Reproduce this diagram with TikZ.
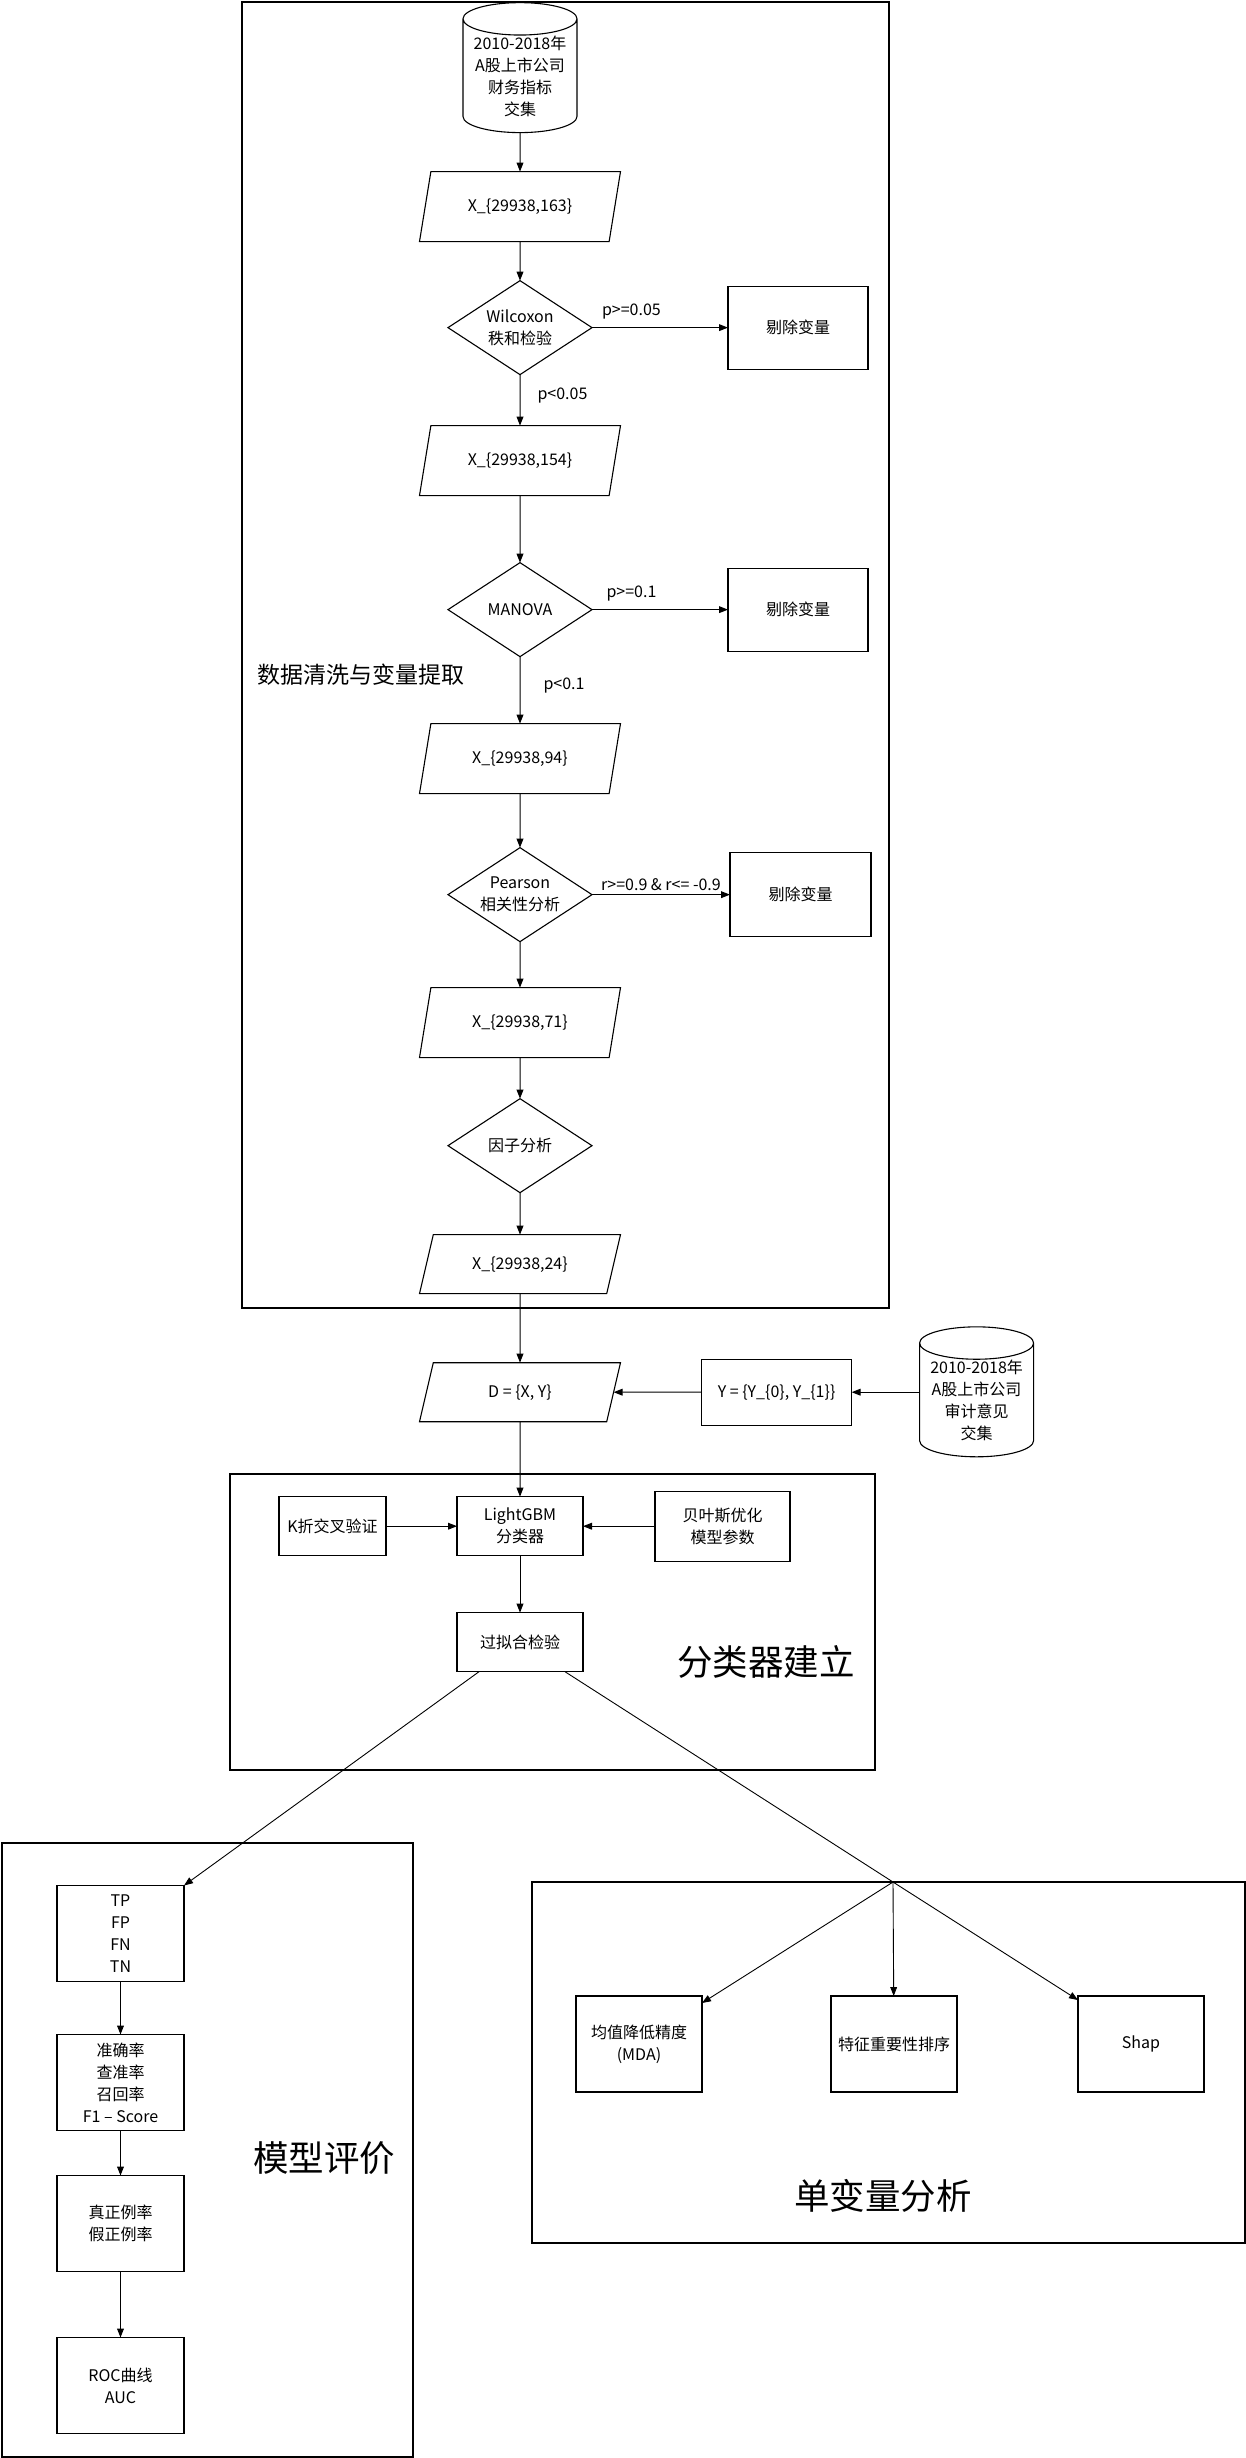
\documentclass[tikz,border=0pt]{standalone}
\usepackage{fontspec}
\setmainfont{Noto Sans CJK SC}
\usetikzlibrary{shapes.geometric, arrows.meta, positioning, calc}

\begin{document}
\begin{tikzpicture}[
    x=0.5pt, y=-0.5pt,
    node distance=20pt,
    font=\fontsize{8}{11}\selectfont,
    base/.style={draw, line width=0.55pt, align=center, inner sep=1pt, outer sep=0pt},
    process/.style={base, rectangle, minimum width=63pt, minimum height=29.5pt},
    evalbox/.style={process, minimum width=63.5pt, minimum height=48pt},
    data/.style={base, trapezium, trapezium left angle=60, trapezium right angle=120, trapezium stretches body=true, minimum width=100.5pt, minimum height=35pt},
    shortdata/.style={data, trapezium left angle=55, trapezium right angle=125, minimum height=29.5pt},
    decision/.style={base, diamond, aspect=1.53, minimum width=72pt, minimum height=47pt, inner sep=0pt},
    store/.style={base, cylinder, shape border rotate=90, aspect=0.35, minimum width=57pt, minimum height=58pt, inner sep=0pt},
    group/.style={draw, line width=0.7pt},
    title/.style={font=\fontsize{17.75}{20}\selectfont},
    cond/.style={font=\fontsize{8}{10}\selectfont, inner sep=1pt},
    arrow/.style={-{Triangle[length=4.5pt, width=3.4pt]}, line width=0.5pt},
    link/.style={line width=0.45pt}
]
\useasboundingbox (0,0) rectangle (1246,2458);

% data cleaning and variable extraction
\node[store] (fin) at (520,76) {2010-2018年\\A股上市公司\\财务指标\\交集};
\node[data, below=19.5pt of fin] (x163) {X\_\{29938,163\}};
\node[decision, below=19.5pt of x163] (wil) {Wilcoxon\\秩和检验};
\node[process, right=68pt of wil, minimum width=70pt, minimum height=41.5pt] (del1) {剔除变量};
\node[data, below=25.5pt of wil] (x154) {X\_\{29938,154\}};
\node[decision, below=33.5pt of x154] (manova) {MANOVA};
\node[process, right=68pt of manova, minimum width=70pt, minimum height=41.5pt] (del2) {剔除变量};
\node[data, below=33.5pt of manova] (x94) {X\_\{29938,94\}};
\node[decision, below=27pt of x94] (pearson) {Pearson\\相关性分析};
\node[process, right=69pt of pearson, minimum width=70.5pt, minimum height=42pt] (del3) {剔除变量};
\node[data, below=23pt of pearson] (x71) {X\_\{29938,71\}};
\node[decision, below=20.5pt of x71] (factor) {因子分析};
\node[shortdata, below=21pt of factor] (x24) {X\_\{29938,24\}};
\node[font=\fontsize{11.5}{14}\selectfont] (clean) at (361,675) {数据清洗与变量提取};
\draw[group] (242,2) rectangle (889,1308);

\draw[arrow] (fin) -- (x163);
\draw[arrow] (x163) -- (wil);
\draw[arrow] (wil) -- node[cond, pos=0.29, above=3pt] {p>=0.05} (del1);
\draw[arrow] (wil) -- node[cond, pos=0.41, right=7.5pt] {p<0.05} (x154);
\draw[arrow] (x154) -- (manova);
\draw[arrow] (manova) -- node[cond, pos=0.29, above=3pt] {p>=0.1} (del2);
\draw[arrow] (manova) -- node[cond, pos=0.43, right=10.5pt] {p<0.1} (x94);
\draw[arrow] (x94) -- (pearson);
\draw[arrow] (pearson) -- node[cond, pos=0.5, above=0.5pt] {r>=0.9 \& r<= -0.9} (del3);
\draw[arrow] (pearson) -- (x71);
\draw[arrow] (x71) -- (factor);
\draw[arrow] (factor) -- (x24);

% classifier
\node[shortdata, below=34.5pt of x24] (dset) {D = \{X, Y\}};
\node[process, right=44pt of dset, minimum width=75pt, minimum height=33pt] (label) {Y = \{Y\_\{0\}, Y\_\{1\}\}};
\node[store, right=34pt of label, yshift=-4pt] (audit) {2010-2018年\\A股上市公司\\审计意见\\交集};
\node[process, below=37.5pt of dset] (lgbm) {LightGBM\\分类器};
\node[process, left=35.5pt of lgbm, minimum width=53.5pt] (kfold) {K折交叉验证};
\node[process, right=36pt of lgbm, minimum width=67.5pt, minimum height=35pt] (bayes) {贝叶斯优化\\模型参数};
\node[process, below=28.5pt of lgbm] (overfit) {过拟合检验};
\node[title] (build) at (766,1662) {分类器建立};
\draw[group] (230,1474) rectangle (875,1770);

\draw[arrow] (x24) -- (dset);
\draw[arrow] (label -| audit.west) -- (label);
\draw[arrow] (label) -- ($(dset.top right corner)!0.5!(dset.bottom right corner)$);
\draw[arrow] (dset) -- (lgbm);
\draw[arrow] (kfold) -- (lgbm);
\draw[arrow] (bayes) -- (lgbm);
\draw[arrow] (lgbm) -- (overfit);

% model evaluation
\node[evalbox] (conf) at (120.5,1933.5) {TP\\FP\\FN\\TN};
\node[evalbox, below=26.5pt of conf] (metric) {准确率\\查准率\\召回率\\F1 – Score};
\node[evalbox, below=22.5pt of metric] (rate) {真正例率\\假正例率};
\node[evalbox, below=33pt of rate] (roc) {ROC曲线\\AUC};
\node[title] (eval) at (324,2158) {模型评价};
\draw[group] (2,1843) rectangle (413,2457);

\draw[arrow] (conf) -- (metric);
\draw[arrow] (metric) -- (rate);
\draw[arrow] (rate) -- (roc);

% univariate analysis
\coordinate (split) at (893,1882);
\node[evalbox, minimum width=63pt] (feat) at (894,2044) {特征重要性排序};
\node[evalbox, minimum width=63pt, left=64.5pt of feat] (mda) {均值降低精度\\(MDA)};
\node[evalbox, minimum width=63pt, right=60.5pt of feat] (shap) {Shap};
\node[title] (uni) at (883,2196) {单变量分析};
\draw[group] (532,1882) rectangle (1245,2243);

\draw[arrow, link] ([xshift=11pt]overfit.south west) -- (conf.north east);
\draw[link] ([xshift=-9pt]overfit.south east) -- (split);
\draw[arrow, link] (split) -- ([yshift=-3.5pt]mda.north east);
\draw[arrow, link] (split) -- (feat);
\draw[arrow, link] (split) -- ([yshift=-2pt]shap.north west);

\end{tikzpicture}
\end{document}
